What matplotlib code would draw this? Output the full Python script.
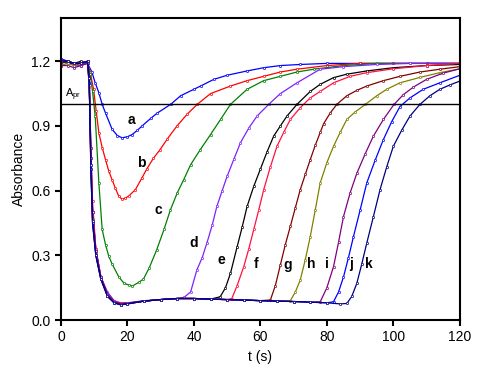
import matplotlib
matplotlib.use("Agg")
import matplotlib.pyplot as plt

plt.rcParams['font.family'] = ['Liberation Sans', 'DejaVu Sans']
plt.rcParams['mathtext.fontset'] = 'custom'
plt.rcParams['mathtext.rm'] = 'Liberation Sans'

# ---- data ----
t_a = [0, 2, 4, 6, 8, 9.3, 10.3, 11.4, 12.4, 13.4, 15.4, 17, 18.4, 20, 21.4, 23, 24.4, 27, 29, 33, 36, 40, 42, 46, 50, 56, 61, 66, 72, 80, 90, 100, 110, 120]
A_a = [1.21, 1.20, 1.19, 1.19, 1.19, 1.15, 1.10, 1.054, 1.0, 0.96, 0.884, 0.855, 0.845, 0.85, 0.86, 0.88, 0.90, 0.935, 0.96, 1.0, 1.04, 1.07, 1.085, 1.116, 1.135, 1.155, 1.17, 1.18, 1.185, 1.19, 1.19, 1.19, 1.19, 1.19]

t_b = [0, 2, 4, 6, 8, 8.8, 9.8, 10.6, 11.4, 12.4, 13.4, 14.4, 15.4, 16.4, 17.4, 18.4, 19.4, 20.4, 22.4, 24.4, 25.8, 27.8, 29.8, 32, 34.9, 38, 41, 45, 51, 56, 61, 66, 71, 80, 90, 100, 110, 120]
A_b = [1.2, 1.2, 1.19, 1.19, 1.19, 1.15, 1.07, 0.97, 0.868, 0.80, 0.744, 0.69, 0.65, 0.61, 0.574, 0.56, 0.566, 0.575, 0.605, 0.66, 0.70, 0.75, 0.79, 0.84, 0.90, 0.955, 1.0, 1.05, 1.085, 1.11, 1.13, 1.15, 1.163, 1.18, 1.19, 1.19, 1.19, 1.19]

t_c = [0, 2, 4, 6, 8, 8.8, 9.5, 10.3, 11.4, 12.4, 13.4, 14.4, 15.4, 17.4, 19, 20.4, 21.5, 23.4, 24.8, 26.5, 28.8, 31, 32.9, 35, 36.9, 39, 41.9, 45, 48, 51, 56, 61, 66, 71, 76, 85, 95, 105, 120]
A_c = [1.2, 1.2, 1.19, 1.19, 1.19, 1.14, 1.06, 0.946, 0.636, 0.42, 0.35, 0.295, 0.26, 0.20, 0.17, 0.163, 0.158, 0.175, 0.19, 0.24, 0.326, 0.42, 0.51, 0.59, 0.65, 0.72, 0.79, 0.86, 0.93, 1.0, 1.07, 1.11, 1.13, 1.15, 1.163, 1.18, 1.19, 1.19, 1.19]

t_d = [0, 2, 4, 6, 8, 8.6, 9, 9.5, 10.5, 12, 14, 16, 18, 20, 25, 30, 35, 37, 39, 40.9, 42.5, 43.9, 45.5, 46.9, 48.5, 50, 52, 54, 56.5, 59, 62.5, 66, 71, 78, 85, 95, 105, 120]
A_d = [1.19, 1.2, 1.18, 1.19, 1.19, 1.1, 0.75, 0.5, 0.33, 0.2, 0.13, 0.09, 0.08, 0.08, 0.09, 0.095, 0.10, 0.105, 0.13, 0.233, 0.29, 0.357, 0.44, 0.527, 0.60, 0.667, 0.745, 0.822, 0.89, 0.946, 1.0, 1.05, 1.10, 1.163, 1.175, 1.185, 1.19, 1.19]

t_e = [0, 2, 4, 6, 8, 8.5, 9, 9.5, 10.5, 12, 14, 16, 18, 20, 25, 30, 35, 40, 45, 47.9, 49.5, 51, 53, 54.5, 56, 58, 60, 62, 64, 66, 68, 71, 75, 78, 82, 86, 92, 100, 110, 120]
A_e = [1.2, 1.19, 1.19, 1.2, 1.19, 1.1, 0.8, 0.5, 0.32, 0.2, 0.12, 0.085, 0.075, 0.078, 0.088, 0.095, 0.10, 0.10, 0.097, 0.108, 0.15, 0.217, 0.34, 0.43, 0.527, 0.62, 0.70, 0.78, 0.853, 0.90, 0.946, 1.0, 1.06, 1.093, 1.124, 1.14, 1.155, 1.17, 1.18, 1.185]

t_f = [0, 2, 4, 6, 8, 8.5, 9, 9.5, 10.5, 12, 14, 16, 18, 20, 25, 30, 35, 40, 45, 50, 51.4, 53, 55, 56.5, 58, 59.5, 61, 63, 65, 67, 69, 72, 75, 78, 82, 87, 92, 100, 110, 120]
A_f = [1.2, 1.2, 1.19, 1.19, 1.2, 1.08, 0.8, 0.55, 0.33, 0.2, 0.12, 0.085, 0.078, 0.078, 0.088, 0.095, 0.10, 0.10, 0.097, 0.095, 0.10, 0.16, 0.248, 0.33, 0.42, 0.51, 0.605, 0.71, 0.806, 0.87, 0.93, 0.985, 1.03, 1.06, 1.10, 1.13, 1.147, 1.165, 1.18, 1.19]

t_g = [0, 2, 4, 6, 8, 8.5, 9, 9.5, 10.5, 12, 14, 16, 18, 20, 25, 30, 35, 40, 45, 50, 55, 60, 63, 64.5, 66, 67.5, 69, 70.5, 72, 73.5, 75, 76.5, 78, 79, 81, 83, 86, 89, 92, 97, 102, 108, 114, 120]
A_g = [1.19, 1.2, 1.19, 1.19, 1.2, 1.12, 0.7, 0.45, 0.3, 0.19, 0.11, 0.08, 0.072, 0.075, 0.088, 0.095, 0.10, 0.10, 0.097, 0.095, 0.093, 0.09, 0.093, 0.16, 0.255, 0.35, 0.434, 0.52, 0.605, 0.675, 0.744, 0.81, 0.87, 0.91, 0.96, 1.0, 1.04, 1.065, 1.085, 1.11, 1.13, 1.15, 1.163, 1.175]

t_h = [0, 2, 4, 6, 8, 8.5, 9, 9.5, 10.5, 12, 14, 16, 18, 20, 25, 30, 35, 40, 45, 50, 55, 60, 65, 69, 70.5, 72, 73.5, 75, 76.5, 78, 80, 82, 84, 86, 88.5, 91.6, 95, 98, 102, 108, 114, 120]
A_h = [1.18, 1.19, 1.18, 1.18, 1.19, 1.1, 0.72, 0.47, 0.31, 0.2, 0.12, 0.085, 0.075, 0.078, 0.088, 0.095, 0.10, 0.10, 0.097, 0.095, 0.093, 0.09, 0.088, 0.09, 0.13, 0.186, 0.28, 0.387, 0.51, 0.636, 0.73, 0.806, 0.87, 0.93, 0.965, 1.0, 1.04, 1.07, 1.10, 1.125, 1.147, 1.165]

t_i = [0, 2, 4, 6, 8, 8.5, 9, 9.5, 10.5, 12, 14, 16, 18, 20, 25, 30, 35, 40, 45, 50, 55, 60, 65, 70, 75, 78, 80, 82, 83.5, 85, 87, 89, 91.5, 94, 97, 100.2, 103, 106, 110, 115, 120]
A_i = [1.18, 1.18, 1.17, 1.18, 1.19, 1.1, 0.75, 0.5, 0.32, 0.2, 0.12, 0.085, 0.076, 0.078, 0.088, 0.095, 0.10, 0.10, 0.097, 0.095, 0.093, 0.09, 0.088, 0.086, 0.083, 0.085, 0.15, 0.248, 0.36, 0.48, 0.59, 0.68, 0.77, 0.853, 0.93, 1.0, 1.045, 1.08, 1.116, 1.145, 1.165]

t_j = [0, 2, 4, 6, 8, 8.5, 9, 9.5, 10.5, 12, 14, 16, 18, 20, 25, 30, 35, 40, 45, 50, 55, 60, 65, 70, 75, 80, 82, 83.5, 85, 86.5, 88, 90, 92, 94.5, 97, 99.5, 102, 105, 109, 114, 120]
A_j = [1.21, 1.2, 1.19, 1.19, 1.2, 1.1, 0.7, 0.45, 0.3, 0.19, 0.11, 0.08, 0.07, 0.075, 0.088, 0.095, 0.10, 0.10, 0.097, 0.095, 0.093, 0.09, 0.088, 0.086, 0.083, 0.08, 0.085, 0.13, 0.20, 0.29, 0.387, 0.51, 0.636, 0.74, 0.837, 0.92, 0.99, 1.03, 1.07, 1.10, 1.135]

t_k = [0, 2, 4, 6, 8, 8.5, 9, 9.5, 10.5, 12, 14, 16, 18, 20, 25, 30, 35, 40, 45, 50, 55, 60, 65, 70, 75, 80, 84, 86, 87.5, 89, 90.5, 92, 94, 96, 98, 100, 102.5, 105, 108, 111, 114, 117, 120]
A_k = [1.2, 1.2, 1.19, 1.19, 1.2, 1.12, 0.72, 0.46, 0.3, 0.19, 0.11, 0.08, 0.072, 0.075, 0.088, 0.095, 0.10, 0.10, 0.097, 0.095, 0.093, 0.09, 0.088, 0.086, 0.083, 0.08, 0.075, 0.077, 0.11, 0.17, 0.26, 0.357, 0.48, 0.605, 0.71, 0.806, 0.88, 0.946, 1.0, 1.04, 1.07, 1.09, 1.108]

series_names = ['a', 'b', 'c', 'd', 'e', 'f', 'g', 'h', 'i', 'j', 'k']
series_t = [t_a, t_b, t_c, t_d, t_e, t_f, t_g, t_h, t_i, t_j, t_k]
series_A = [A_a, A_b, A_c, A_d, A_e, A_f, A_g, A_h, A_i, A_j, A_k]
colors = ['#0000FF', '#FF0000', '#008000', '#8020FF', '#000000', '#FF1040',
          '#800000', '#808000', '#800080', '#0000FF', '#000080']

# label positions (t, A)
label_t = [21.1, 24.1, 29.2, 39.8, 48.2, 58.8, 68.1, 75.4, 79.9, 87.4, 92.6]
label_A = [0.926, 0.73, 0.51, 0.358, 0.28, 0.26, 0.256, 0.26, 0.26, 0.26, 0.26]

A_pr = 1.0

fig = plt.figure(figsize=(4.8, 3.77), dpi=100)
ax = fig.add_axes([0.127, 0.151, 0.831, 0.801])

for tt, AA, c in zip(series_t, series_A, colors):
    ax.plot(tt, AA, color=c, lw=0.9, marker='o', ms=1.6, mfc='white',
            mec=c, mew=0.5)

ax.axhline(A_pr, color='black', lw=1.0, zorder=5)
ax.text(1.2, 1.035, r'A$_\mathrm{pr}$', fontsize=8)

for n, lt, la in zip(series_names, label_t, label_A):
    ax.text(lt, la, n, fontsize=10, fontweight='bold', ha='center', va='center')

ax.set_xlim(0, 120)
ax.set_ylim(0, 1.4)
ax.set_xticks([0, 20, 40, 60, 80, 100, 120])
ax.set_yticks([0.0, 0.3, 0.6, 0.9, 1.2])
ax.set_yticklabels(['0.0', '0.3', '0.6', '0.9', '1.2'])
ax.tick_params(direction='out', length=4, width=1.5, labelsize=10)
for s in ax.spines.values():
    s.set_linewidth(1.5)
ax.set_xlabel('t (s)', fontsize=10)
ax.set_ylabel('Absorbance', fontsize=10)

fig.savefig('out.png', dpi=100)
